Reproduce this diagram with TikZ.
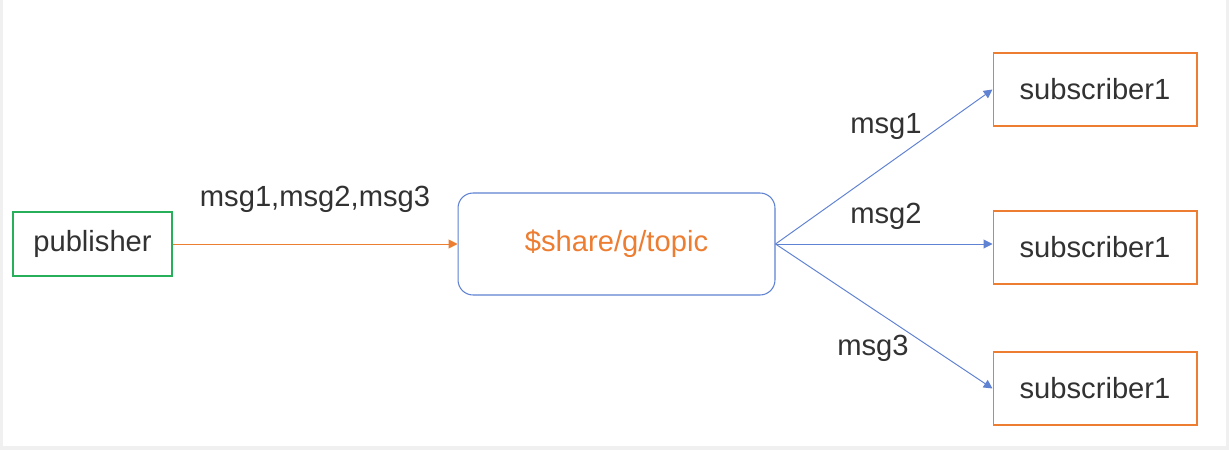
\documentclass[tikz,border=0pt]{standalone}
\usepackage{fontspec}
\setmainfont{Liberation Sans}
\usetikzlibrary{arrows.meta}

\definecolor{pubgreen}{RGB}{40,175,90}
\definecolor{msgorange}{RGB}{237,125,49}
\definecolor{linkblue}{RGB}{95,130,210}
\definecolor{txtgrey}{RGB}{50,50,50}

\tikzset{
  pubbox/.style={draw=pubgreen, line width=0.6pt, minimum width=3.18cm, minimum height=1.28cm, text=txtgrey},
  topicbox/.style={draw=linkblue, line width=0.6pt, rounded corners=0.3cm, minimum width=6.34cm, minimum height=2.04cm, text=msgorange},
  subbox/.style={draw=msgorange, line width=0.6pt, minimum width=4.08cm, minimum height=1.46cm, text=txtgrey},
  msglabel/.style={text=txtgrey},
  tip/.style={-{Triangle[length=5pt,width=5pt]}, line width=0.55pt}
}

\begin{document}
\begin{tikzpicture}[x=0.02cm, y=-0.02cm, font=\fontsize{16.6}{19}\selectfont]
\fill[black!6] (0,0) rectangle (1229,450);
\fill[white] (3,0) rectangle (1226,446);
\useasboundingbox (0,0) rectangle (1229,450);

\node[pubbox] (pub) at (92.5,244) {publisher};
\node[topicbox] (topic) at (616.5,244) {\$share/g/topic};
\node[subbox] (subA) at (1095,89.5) {subscriber1};
\node[subbox] (subB) at (1095,247.5) {subscriber1};
\node[subbox] (subC) at (1095,388.5) {subscriber1};

\draw[tip, msgorange] (pub) -- (topic);
\draw[tip, linkblue] (topic.east) -- (subA.west);
\draw[tip, linkblue] (topic.east) -- (subB.west |- topic.east);
\draw[tip, linkblue] (topic.east) -- (subC.west);

\node[msglabel] (lblall) at (315,199) {msg1,msg2,msg3};
\node[msglabel] (lblA) at (886,126) {msg1};
\node[msglabel] (lblB) at (886,216) {msg2};
\node[msglabel] (lblC) at (873,348) {msg3};

\end{tikzpicture}
\end{document}
